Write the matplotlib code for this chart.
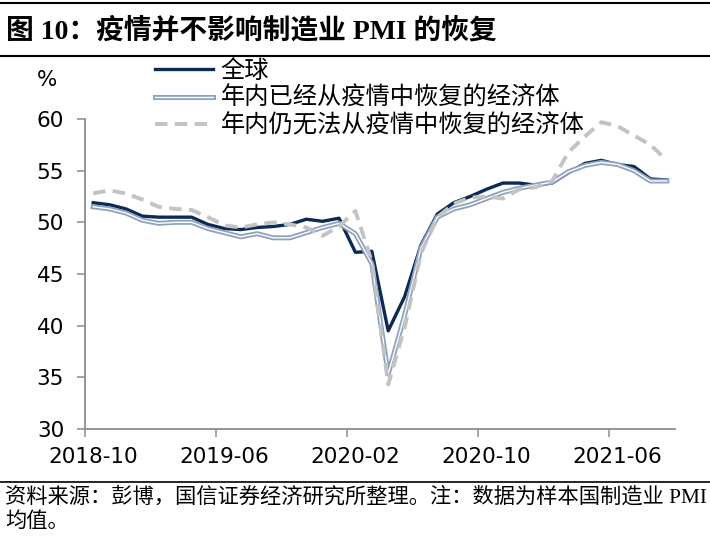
import matplotlib
matplotlib.use("Agg")
import matplotlib.pyplot as plt
import matplotlib.patheffects as pe
import numpy as np

plt.rcParams['font.family'] = ['DejaVu Sans', 'Noto Sans CJK SC']

# ---------------- data ----------------
months = ['2018-10', '2018-11', '2018-12', '2019-01', '2019-02', '2019-03', '2019-04', '2019-05',
          '2019-06', '2019-07', '2019-08', '2019-09', '2019-10', '2019-11', '2019-12', '2020-01',
          '2020-02', '2020-03', '2020-04', '2020-05', '2020-06', '2020-07', '2020-08', '2020-09',
          '2020-10', '2020-11', '2020-12', '2021-01', '2021-02', '2021-03', '2021-04', '2021-05',
          '2021-06', '2021-07', '2021-08', '2021-09']

global_pmi = [51.9, 51.7, 51.3, 50.6, 50.5, 50.5, 50.5, 49.8, 49.4, 49.3, 49.5, 49.6,
              49.8, 50.3, 50.1, 50.4, 47.1, 47.2, 39.5, 42.8, 47.8, 50.8, 51.9, 52.5,
              53.2, 53.8, 53.8, 53.6, 53.8, 54.8, 55.7, 56.0, 55.6, 55.4, 54.2, 54.1]

recovered_pmi = [51.5, 51.3, 50.9, 50.2, 49.9, 50.0, 50.0, 49.4, 49.0, 48.6, 48.9, 48.5,
                 48.5, 49.0, 49.5, 49.9, 48.9, 46.0, 35.3, 41.0, 47.5, 50.5, 51.3, 51.7,
                 52.3, 52.9, 53.3, 53.6, 53.9, 54.9, 55.5, 55.8, 55.6, 55.0, 54.0, 54.0]

not_recovered_pmi = [52.8, 53.1, 52.8, 52.2, 51.5, 51.3, 51.2, 50.5, 49.7, 49.5, 49.8, 50.0,
                     49.8, 49.5, 48.7, 49.6, 51.1, 46.2, 34.3, 39.8, 47.0, 50.5, 51.8, 52.4,
                     52.5, 52.3, 53.2, 53.4, 54.0, 56.8, 58.3, 59.7, 59.3, 58.4, 57.5, 56.0]

series_labels = ['全球', '年内已经从疫情中恢复的经济体', '年内仍无法从疫情中恢复的经济体']
tick_labels = ['2018-10', '2019-06', '2020-02', '2020-10', '2021-06']
y_ticks = [30, 35, 40, 45, 50, 55, 60]

title = '图 10：疫情并不影响制造业 PMI 的恢复'
source1 = '资料来源：彭博，国信证券经济研究所整理。注：数据为样本国制造业 PMI'
source2 = '均值。'

# ---------------- figure ----------------
W, H = 710, 536
fig = plt.figure(figsize=(W / 100, H / 100), dpi=100)
ax = fig.add_axes([85 / W, 1 - 429 / H, (675 - 85) / W, (429 - 119) / H])

x = np.arange(len(months)) + 0.5
navy = '#0b2a54'
light = '#8ea2bf'
grey = '#c3c3c3'

l1, = ax.plot(x, global_pmi, color=navy, lw=2.4, solid_joinstyle='round', zorder=3,
              label=series_labels[0])
l2, = ax.plot(x, recovered_pmi, color='white', lw=1.0, solid_joinstyle='round', zorder=4,
              label=series_labels[1],
              path_effects=[pe.Stroke(linewidth=3.6, foreground=light), pe.Normal()])
l3, = ax.plot(x, not_recovered_pmi, color=grey, lw=2.8, dashes=(3.2, 1.9), zorder=5,
              label=series_labels[2])

ax.set_xlim(0, len(months))
ax.set_ylim(30, 60)
ax.set_yticks(y_ticks)
ax.set_yticklabels([str(v) for v in y_ticks])
tick_pos = [months.index(t) for t in tick_labels]
# tick marks at category boundaries, labels centred on the category
ax.set_xticks(tick_pos)
ax.set_xticklabels([''] * len(tick_pos))
ax.set_xticks([p + 0.5 for p in tick_pos], minor=True)
ax.set_xticklabels(tick_labels, minor=True)

for s in ['top', 'right']:
    ax.spines[s].set_visible(False)
for s in ['left', 'bottom']:
    ax.spines[s].set_color('#8c8c8c')
    ax.spines[s].set_linewidth(1.3)
ax.tick_params(axis='both', direction='out', length=6, width=1.1, color='#8c8c8c',
               labelsize=15.5, labelcolor='black')
ax.tick_params(axis='y', pad=9)
ax.tick_params(axis='x', which='minor', length=0, pad=13, labelsize=15.5)

fig.text(47 / W, 1 - 80 / H, '%', fontsize=15.5, ha='center', va='center')

leg = fig.legend(handles=[l1, l2, l3], labels=series_labels, loc='upper left',
                 bbox_to_anchor=(155 / W, 1 - 58 / H), frameon=False, borderpad=0,
                 borderaxespad=0, handlelength=2.4, handletextpad=0.3,
                 labelspacing=0.05, prop={'family': ['Noto Sans CJK SC'], 'size': 17.5})

# title block
fig.add_artist(plt.Line2D([0, 1], [1 - 3 / H, 1 - 3 / H], color='black', lw=1.5,
                          transform=fig.transFigure))
fig.add_artist(plt.Line2D([0, 1], [1 - 56 / H, 1 - 56 / H], color='black', lw=1.5,
                          transform=fig.transFigure))
fig.text(6 / W, 1 - 31 / H, title, fontsize=20, fontweight='bold', ha='left', va='center',
         family=['Liberation Serif', 'Noto Sans CJK SC'])

# source block
fig.add_artist(plt.Line2D([0, 1], [1 - 482 / H, 1 - 482 / H], color='black', lw=1.2,
                          transform=fig.transFigure))
fig.text(5 / W, 1 - 497 / H, source1, fontsize=15.3, ha='left', va='center',
         family=['Liberation Serif', 'Noto Sans CJK SC'])
fig.text(5 / W, 1 - 522 / H, source2, fontsize=15.3, ha='left', va='center',
         family=['Liberation Serif', 'Noto Sans CJK SC'])

fig.savefig('out.png', dpi=100)
